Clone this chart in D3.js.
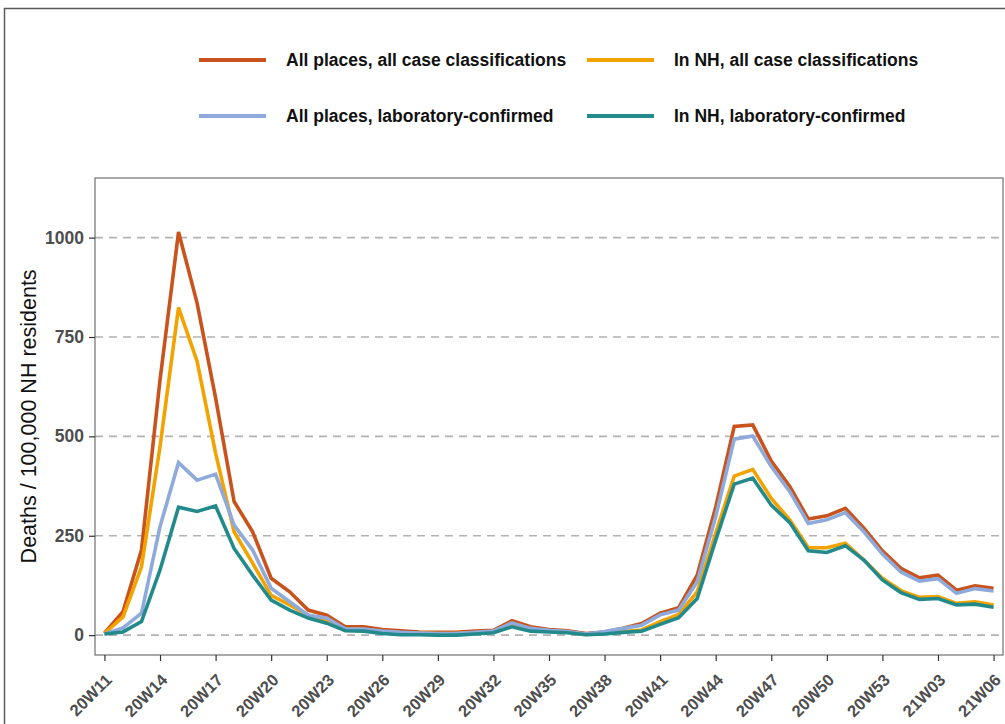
<!DOCTYPE html>
<html>
<head>
<meta charset="utf-8">
<script src="https://cdn.jsdelivr.net/npm/d3@7/dist/d3.min.js"></script>
<style>
  html, body { margin: 0; padding: 0; background: #fff; }
  svg { display: block; font-family: "Liberation Sans", Arial, sans-serif; }
</style>
</head>
<body>
<svg id="chart" width="1005" height="724"></svg>
<script>
// ISO weeks, 2020 week 11 to 2021 week 6
const weeks = [
  "20W11","20W12","20W13","20W14","20W15","20W16","20W17","20W18","20W19","20W20",
  "20W21","20W22","20W23","20W24","20W25","20W26","20W27","20W28","20W29","20W30",
  "20W31","20W32","20W33","20W34","20W35","20W36","20W37","20W38","20W39","20W40",
  "20W41","20W42","20W43","20W44","20W45","20W46","20W47","20W48","20W49","20W50",
  "20W51","20W52","20W53","21W01","21W02","21W03","21W04","21W05","21W06"
];
const tickWeeks = ["20W11","20W14","20W17","20W20","20W23","20W26","20W29","20W32","20W35",
  "20W38","20W41","20W44","20W47","20W50","20W53","21W03","21W06"];
const yTicks = [0, 250, 500, 750, 1000];

// Deaths per 100,000 nursing-home residents
const allPlacesAll = [
  5, 59, 214, 642, 1014, 836, 597, 336, 260, 143,
  109, 63, 50, 21, 21, 14, 11, 8, 7, 7,
  10, 12, 36, 21, 14, 11, 4, 8, 17, 29,
  55, 69, 151, 322, 525, 529, 438, 374, 292, 300,
  319, 269, 212, 168, 144, 151, 113, 124, 118
];
const inNhAll = [
  4, 46, 172, 474, 824, 689, 458, 260, 181, 100,
  76, 50, 38, 15, 14, 9, 6, 5, 4, 4,
  6, 9, 28, 15, 10, 8, 2, 5, 9, 13,
  34, 52, 109, 257, 400, 417, 344, 290, 220, 220,
  231, 189, 143, 112, 95, 97, 80, 84, 76
];
const allPlacesLab = [
  3, 18, 55, 273, 434, 390, 405, 277, 214, 118,
  84, 50, 43, 16, 15, 10, 7, 5, 4, 4,
  7, 10, 31, 17, 12, 9, 3, 9, 17, 25,
  51, 63, 134, 298, 493, 501, 424, 361, 281, 290,
  308, 260, 204, 159, 136, 142, 105, 117, 111
];
const inNhLab = [
  3, 8, 34, 164, 322, 311, 325, 218, 151, 88,
  63, 43, 30, 11, 10, 4, 1, 1, 0, 0,
  3, 6, 21, 10, 8, 6, 1, 3, 7, 10,
  27, 44, 92, 239, 380, 395, 327, 283, 212, 208,
  225, 189, 139, 107, 90, 92, 76, 78, 70
];

const seriesNames = [
  "All places, all case classifications",
  "In NH, all case classifications",
  "All places, laboratory-confirmed",
  "In NH, laboratory-confirmed"
];
const seriesColors = ["#c9531d", "#f2a300", "#8eaadc", "#238a8c"];
const seriesValues = [allPlacesAll, inNhAll, allPlacesLab, inNhLab];

const svg = d3.select("#chart");
const panel = { left: 95, right: 1003, top: 178, bottom: 655 };

const x = d3.scalePoint().domain(weeks).range([panel.left, panel.right]).padding(0.51);
const y = d3.scaleLinear().domain([-50, 1150]).range([panel.bottom, panel.top]);

// Outer frame
svg.append("rect")
  .attr("x", 4.5).attr("y", 8.5).attr("width", 1010).attr("height", 730)
  .attr("fill", "none").attr("stroke", "#5a5a5a").attr("stroke-width", 1.5);

// Gridlines
svg.append("g").selectAll("line").data(yTicks).join("line")
  .attr("x1", panel.left).attr("x2", panel.right)
  .attr("y1", d => y(d)).attr("y2", d => y(d))
  .attr("stroke", "#b3b3b3").attr("stroke-width", 1.6)
  .attr("stroke-dasharray", "8,6");

// Lines
const line = d3.line().x((d, i) => x(weeks[i])).y(d => y(d));
svg.append("g").selectAll("path").data(seriesValues).join("path")
  .attr("d", d => line(d))
  .attr("fill", "none")
  .attr("stroke", (d, i) => seriesColors[i])
  .attr("stroke-width", 3.6)
  .attr("stroke-linejoin", "miter");

// Panel border
svg.append("rect")
  .attr("x", panel.left).attr("y", panel.top)
  .attr("width", panel.right - panel.left).attr("height", panel.bottom - panel.top)
  .attr("fill", "none").attr("stroke", "#707070").attr("stroke-width", 1.2);

// Y axis
const yAxis = svg.append("g")
  .attr("transform", `translate(${panel.left},0)`)
  .call(d3.axisLeft(y).tickValues(yTicks).tickSize(6).tickPadding(5).tickFormat(d3.format("d")));
yAxis.select(".domain").remove();
yAxis.selectAll(".tick line").attr("stroke", "#333").attr("stroke-width", 1.2);
yAxis.selectAll(".tick text")
  .attr("fill", "#4d4d4d").attr("font-size", 17.5).attr("font-weight", "bold")
  .attr("font-family", "Liberation Sans, Arial, sans-serif");

// X axis
const xAxis = svg.append("g")
  .attr("transform", `translate(0,${panel.bottom})`)
  .call(d3.axisBottom(x).tickValues(tickWeeks).tickSize(6));
xAxis.select(".domain").remove();
xAxis.selectAll(".tick line").attr("stroke", "#333").attr("stroke-width", 1.2);
xAxis.selectAll(".tick text")
  .attr("fill", "#4d4d4d").attr("font-size", 16.5).attr("font-weight", "bold")
  .attr("font-family", "Liberation Sans, Arial, sans-serif")
  .attr("text-anchor", "end")
  .attr("x", 0).attr("y", 0).attr("dy", 0)
  .attr("transform", "translate(8,26) rotate(-45)");

// Y axis title
svg.append("text")
  .attr("transform", `translate(36,${(y(0) + y(1000)) / 2 - 20}) rotate(-90)`)
  .attr("text-anchor", "middle")
  .attr("font-size", 21.5)
  .attr("fill", "#111")
  .text("Deaths / 100,000 NH residents");

// Legend (2 x 2)
const legendPos = [
  { lx: 199, ty: 60 }, { lx: 587, ty: 60 },
  { lx: 199, ty: 116 }, { lx: 587, ty: 116 }
];
const legend = svg.append("g").selectAll("g").data(seriesNames).join("g")
  .attr("transform", (d, i) => `translate(${legendPos[i].lx},${legendPos[i].ty})`);
legend.append("line")
  .attr("x1", 0).attr("x2", 67).attr("y1", 0).attr("y2", 0)
  .attr("stroke", (d, i) => seriesColors[i]).attr("stroke-width", 3.8);
legend.append("text")
  .attr("x", 87).attr("y", 0).attr("dy", "0.35em")
  .attr("font-size", 17.5).attr("font-weight", "bold").attr("fill", "#111")
  .text(d => d);
</script>
</body>
</html>
